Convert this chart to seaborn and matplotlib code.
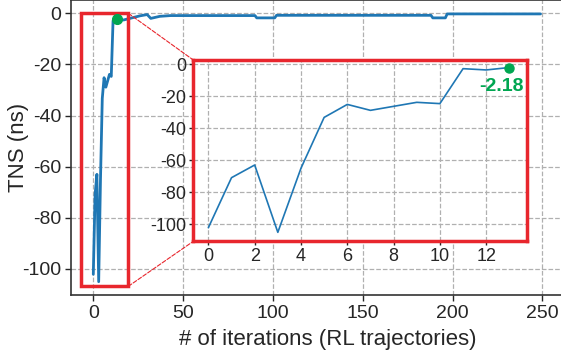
import matplotlib
matplotlib.use('Agg')
import matplotlib.pyplot as plt
import seaborn as sns
import pandas as pd
from matplotlib.patches import Rectangle, ConnectionPatch

# Data (vertices of the TNS curve)
iterations = [0, 1, 2, 3, 4, 5, 6, 7, 8, 9, 10, 11, 12, 13,
              14, 17, 26, 30, 32, 37, 43, 90, 91, 101, 102, 188, 189, 196, 197, 249]
tns = [-102.1, -70.9, -63.0, -105.0, -65.0, -33.3, -25.2, -28.9, -26.4, -23.9, -24.7, -2.9, -3.7, -2.18,
       -2.7, -2.6, -1.0, -0.5, -2.0, -1.2, -0.9, -0.9, -1.8, -1.8, -0.8, -0.8, -1.8, -1.8, -0.25, -0.25]
zoom_n = 14  # first trajectories shown in the inset
best_iter = 13
best_tns = -2.18

x_ticks_main = [0, 50, 100, 150, 200, 250]
y_ticks = [0, -20, -40, -60, -80, -100]
x_ticks_inset = [0, 2, 4, 6, 8, 10, 12]

df = pd.DataFrame({'iteration': iterations, 'tns': tns})
df_zoom = df.iloc[:zoom_n]

RED = '#e8262d'
GREEN = '#00a651'
BLUE = '#1f77b4'

sns.set_style('ticks')
plt.rcParams['font.family'] = ['Liberation Sans', 'DejaVu Sans']
plt.rcParams['axes.unicode_minus'] = False
plt.rcParams['text.color'] = '#262626'
plt.rcParams['axes.labelcolor'] = '#262626'
plt.rcParams['xtick.color'] = '#262626'
plt.rcParams['ytick.color'] = '#262626'

fig = plt.figure(figsize=(5.61, 3.53), dpi=100)
ax = fig.add_axes([0.1266, 0.1643, 0.877, 0.8343])

sns.lineplot(data=df, x='iteration', y='tns', ax=ax, color=BLUE, linewidth=2)
ax.plot(best_iter, best_tns, 'o', color=GREEN, markersize=7, zorder=5)

ax.set_xlim(-12.4, 261.5)
ax.set_ylim(-110.2, 5)
ax.set_xticks(x_ticks_main)
ax.set_yticks(y_ticks)
ax.grid(True, linestyle='--', color='#b0b0b0', linewidth=0.9)
ax.tick_params(labelsize=14, length=4, width=1, pad=3)
ax.set_xlabel('# of iterations (RL trajectories)', fontsize=16)
ax.xaxis.set_label_coords(0.522, -0.117)
ax.set_ylabel('TNS (ns)', fontsize=16)
ax.yaxis.set_label_coords(-0.085, 0.5)
for s in ax.spines.values():
    s.set_color('#333333')
    s.set_linewidth(1.2)

# zoom box on main axes
ax.add_patch(Rectangle((-6.7, -106.8), 26.2, 106.8, fill=False,
                       edgecolor=RED, linewidth=2.5, zorder=4))

# inset
axins = fig.add_axes([0.3446, 0.3164, 0.5943, 0.5136])
sns.lineplot(data=df_zoom, x='iteration', y='tns', ax=axins, color=BLUE, linewidth=1.2)
axins.plot(best_iter, best_tns, 'o', color=GREEN, markersize=6.5, zorder=5)
axins.text(12.64, -14.2, f'{best_tns}', color=GREEN, fontsize=14,
           fontweight='bold', ha='center', va='center')
axins.set_xlim(-0.65, 13.75)
axins.set_ylim(-110.6, 2.5)
axins.set_xticks(x_ticks_inset)
axins.set_yticks(y_ticks)
axins.grid(True, linestyle='--', color='#b0b0b0', linewidth=0.9)
axins.tick_params(labelsize=13, length=3, width=1, pad=2)
axins.set_xlabel('')
axins.set_ylabel('')
for s in axins.spines.values():
    s.set_color(RED)
    s.set_linewidth(2.5)

# dashed connectors
for ymain, yfrac in [(0, 1), (-106.8, 0)]:
    con = ConnectionPatch(xyA=(19.5, ymain), coordsA=ax.transData,
                          xyB=(0, yfrac), coordsB=axins.transAxes,
                          color=RED, linestyle='--', linewidth=0.8)
    fig.add_artist(con)

fig.savefig('out.png', dpi=100)
